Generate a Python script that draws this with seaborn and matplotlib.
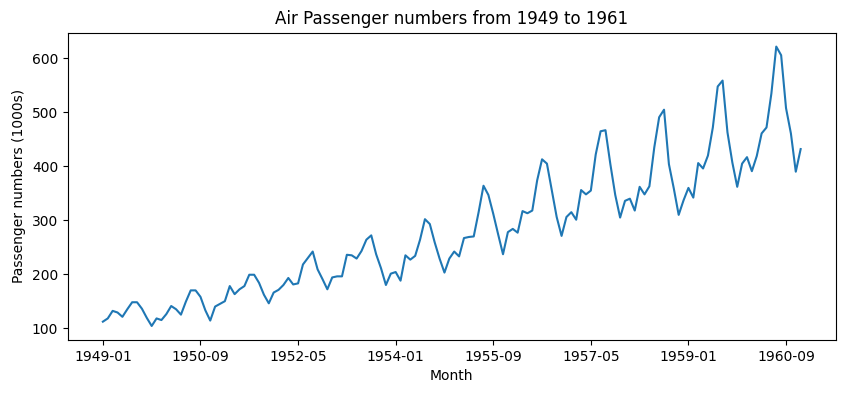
import pandas as pd
import seaborn as sns
import matplotlib.pyplot as plt

#monthly passengers (1000s), 1949-1960
years = list(range(1949, 1961))
passengers = [
    112, 118, 132, 129, 121, 135, 148, 148, 136, 119, 104, 118,
    115, 126, 141, 135, 125, 149, 170, 170, 158, 133, 114, 140,
    145, 150, 178, 163, 172, 178, 199, 199, 184, 162, 146, 166,
    171, 180, 193, 181, 183, 218, 230, 242, 209, 191, 172, 194,
    196, 196, 236, 235, 229, 243, 264, 272, 237, 211, 180, 201,
    204, 188, 235, 227, 234, 264, 302, 293, 259, 229, 203, 229,
    242, 233, 267, 269, 270, 315, 364, 347, 312, 274, 237, 278,
    284, 277, 317, 313, 318, 374, 413, 405, 355, 306, 271, 306,
    315, 301, 356, 348, 355, 422, 465, 467, 404, 347, 305, 336,
    340, 318, 362, 348, 363, 435, 491, 505, 404, 359, 310, 337,
    360, 342, 406, 396, 420, 472, 548, 559, 463, 407, 362, 405,
    417, 391, 419, 461, 472, 535, 622, 606, 508, 461, 390, 432,
]
months = [f'{y}-{m:02d}' for y in years for m in range(1, 13)]

df = pd.DataFrame({'Month': months, 'Passengers': passengers})

fig, ax = plt.subplots(figsize=(8.5, 3.93), dpi=100)
fig.subplots_adjust(left=0.08, right=0.983, top=0.917, bottom=0.135)

sns.lineplot(x='Month', y='Passengers', data=df, ax=ax)

ax.set_xticks(range(0, len(months), 20))
ax.set_xticklabels(months[::20])
ax.set_title('Air Passenger numbers from 1949 to 1961')
ax.set_ylabel('Passenger numbers (1000s)')
ax.set_xlabel('Month')

plt.savefig('out.png')
